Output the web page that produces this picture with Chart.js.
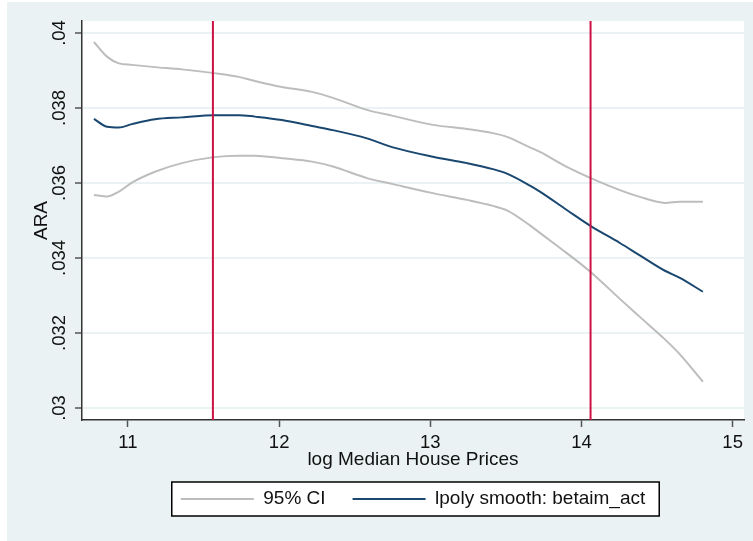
<!DOCTYPE html>
<html lang="en">
<head>
<meta charset="UTF-8">
<title>ARA - lpoly smooth</title>
<script src="https://cdn.jsdelivr.net/npm/chart.js"></script>
<style>
  html, body { margin: 0; padding: 0; background: #ffffff; }
  #wrap { width: 753px; height: 541px; }
</style>
</head>
<body>
<div id="wrap"><canvas id="grafico" width="753" height="541"></canvas></div>

<script>
  // valores
  const logPrecos = [10.775, 10.861, 10.94, 11.026, 11.179, 11.357, 11.569, 11.734, 11.84, 12.019, 12.217, 12.356, 12.581,
                     12.753, 13.017, 13.242, 13.414, 13.507, 13.659, 13.725, 13.903, 14.062, 14.254, 14.386, 14.552,
                     14.651, 14.803];
  const ciSuperior = [0.03976, 0.03937, 0.03919, 0.03915, 0.03909, 0.03903, 0.03893, 0.03883, 0.03872, 0.03856, 0.03843,
                      0.03827, 0.03795, 0.03779, 0.03755, 0.03744, 0.03733, 0.03723, 0.03695, 0.03683, 0.03643, 0.03613,
                      0.03581, 0.03563, 0.03547, 0.03550, 0.03550];
  const suavizado = [0.03771, 0.03750, 0.03748, 0.03757, 0.03770, 0.03775, 0.03781, 0.03781, 0.03777, 0.03768, 0.03752,
                     0.03741, 0.03719, 0.03695, 0.03670, 0.03653, 0.03637, 0.03625, 0.03593, 0.03577, 0.03528, 0.03485,
                     0.03440, 0.03407, 0.03366, 0.03347, 0.03310];
  const ciInferior = [0.03568, 0.03564, 0.03577, 0.03601, 0.03630, 0.03653, 0.03669, 0.03673, 0.03673, 0.03666, 0.03657,
                      0.03644, 0.03613, 0.03597, 0.03573, 0.03555, 0.03539, 0.03527, 0.03487, 0.03467, 0.03413, 0.03362,
                      0.03291, 0.03243, 0.03183, 0.03143, 0.03070];
  const linhasVerticais = [11.562, 14.06];

  const xTicks = [11, 12, 13, 14, 15];
  const yTicks = [0.03, 0.032, 0.034, 0.036, 0.038, 0.04];
  const yTickLabels = ['.03', '.032', '.034', '.036', '.038', '.04'];

  const xMin = 10.696, xMax = 15.075;
  const yMin = 0.02968, yMax = 0.04032;

  const fonte = '"Liberation Sans", Arial, sans-serif';
  const corFundo = '#eaf2f3';

  function pontos(ys) {
    return logPrecos.map(function (x, i) { return { x: x, y: ys[i] }; });
  }

  // linha vertical de cima a baixo da area do grafico
  function linhaVertical(x) {
    return {
      label: 'xline',
      data: [{ x: x, y: yMin }, { x: x, y: yMax }],
      borderColor: '#cc1144',
      borderWidth: 2,
      pointRadius: 0,
      order: 0
    };
  }

  // fundo estilo Stata + caixa da legenda
  const fundoPlugin = {
    id: 'fundo',
    beforeDraw(chart) {
      const ctx = chart.ctx;
      const a = chart.chartArea;
      ctx.save();
      ctx.fillStyle = '#ffffff';
      ctx.fillRect(0, 0, chart.width, chart.height);
      ctx.fillStyle = corFundo;
      ctx.fillRect(7, 2, chart.width - 7, chart.height - 2);
      ctx.fillStyle = '#ffffff';
      ctx.fillRect(a.left, a.top, a.right - a.left, a.bottom - a.top);

      const lg = chart.legend;
      const pad = lg.options.labels.padding;
      const larg = lg.lineWidths[0] - pad;
      const meio = (lg.left + pad + lg.right - lg.lineWidths[0]) / 2;
      const topo = lg.top + pad;
      const x0 = meio - 9, x1 = meio + larg + 14;
      const y0 = topo - 7.5, y1 = topo + 19 + 7.5;
      ctx.fillRect(x0, y0, x1 - x0, y1 - y0);
      ctx.strokeStyle = '#000000';
      ctx.lineWidth = 1.5;
      ctx.strokeRect(x0, y0, x1 - x0, y1 - y0);
      ctx.restore();
    }
  };

  const config = {
    type: 'line',
    data: {
      datasets: [
        {
          label: '95% CI',
          data: pontos(ciSuperior),
          borderColor: '#bdbdbd',
          backgroundColor: '#bdbdbd',
          borderWidth: 2,
          pointRadius: 0,
          cubicInterpolationMode: 'monotone',
          order: 2
        },
        {
          label: 'lpoly smooth: betaim_act',
          data: pontos(suavizado),
          borderColor: '#1a476f',
          backgroundColor: '#1a476f',
          borderWidth: 2,
          pointRadius: 0,
          cubicInterpolationMode: 'monotone',
          order: 1
        },
        {
          label: '95% CI inferior',
          data: pontos(ciInferior),
          borderColor: '#bdbdbd',
          borderWidth: 2,
          pointRadius: 0,
          cubicInterpolationMode: 'monotone',
          order: 2
        },
        linhaVertical(linhasVerticais[0]),
        linhaVertical(linhasVerticais[1])
      ]
    },
    options: {
      responsive: false,
      animation: false,
      devicePixelRatio: 1,
      layout: { padding: { left: 0, top: 21, right: 9, bottom: 22.5 } },
      scales: {
        x: {
          type: 'linear',
          min: xMin,
          max: xMax,
          afterBuildTicks: function (s) { s.ticks = xTicks.map(function (v) { return { value: v }; }); },
          afterFit: function (s) { s.height = 42.5; },
          grid: { drawOnChartArea: false, tickLength: 7, tickColor: '#555555', tickWidth: 1.5 },
          border: { color: '#333333', width: 1.5 },
          ticks: {
            padding: 5,
            color: '#111111',
            font: { family: fonte, size: 18.5 },
            maxRotation: 0,
            autoSkip: false,
            callback: function (v) { return String(v); }
          },
          title: {
            display: true,
            text: 'log Median House Prices',
            color: '#111111',
            font: { family: fonte, size: 19 },
            padding: { top: 0, bottom: -9 }
          }
        },
        y: {
          type: 'linear',
          min: yMin,
          max: yMax,
          afterBuildTicks: function (s) { s.ticks = yTicks.map(function (v) { return { value: v }; }); },
          afterFit: function (s) { s.width = 82; },
          grid: { color: corFundo, lineWidth: 2, tickLength: 7, tickColor: '#555555', tickWidth: 1.5 },
          border: { color: '#333333', width: 1.5 },
          ticks: {
            padding: -3,
            crossAlign: 'center',
            minRotation: 90,
            maxRotation: 90,
            autoSkip: false,
            color: '#111111',
            font: { family: fonte, size: 18.5 },
            callback: function (v) {
              const i = yTicks.indexOf(v);
              return i >= 0 ? yTickLabels[i] : '';
            }
          },
          title: {
            display: true,
            text: 'ARA',
            color: '#111111',
            font: { family: fonte, size: 19 },
            padding: { top: 30, bottom: 0 }
          }
        }
      },
      plugins: {
        legend: {
          position: 'bottom',
          fullSize: false,
          labels: {
            boxWidth: 73,
            boxHeight: 2,
            padding: 27,
            color: '#111111',
            font: { family: fonte, size: 19 },
            filter: function (item) { return item.datasetIndex < 2; },
            sort: function (a, b) { return a.datasetIndex - b.datasetIndex; },
            generateLabels: function (chart) {
              const itens = Chart.defaults.plugins.legend.labels.generateLabels(chart);
              itens.forEach(function (it) {
                it.fillStyle = it.strokeStyle;
                it.lineWidth = 0;
              });
              return itens;
            }
          }
        },
        tooltip: { enabled: false }
      }
    },
    plugins: [fundoPlugin]
  };

  new Chart(document.getElementById('grafico'), config);
</script>
</body>
</html>
